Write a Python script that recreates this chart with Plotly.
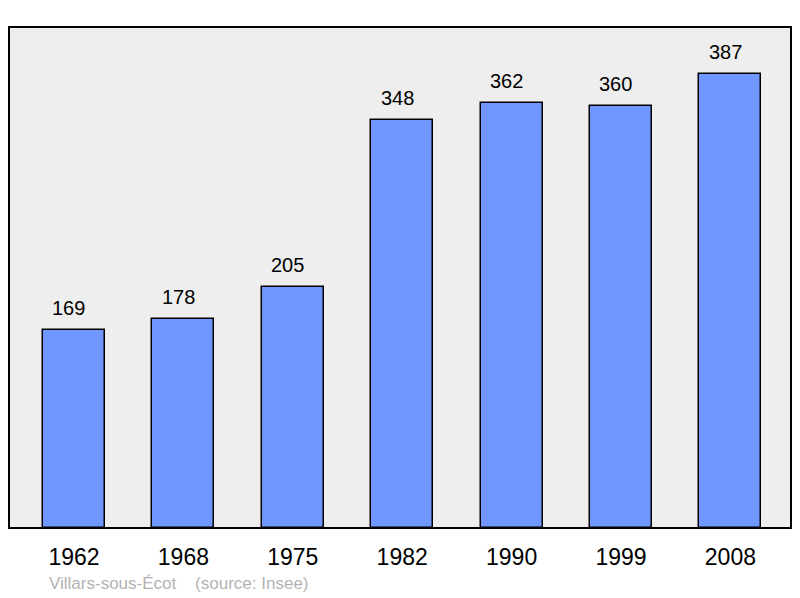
import plotly.graph_objects as go

years = ["1962", "1968", "1975", "1982", "1990", "1999", "2008"]
population = [169, 178, 205, 348, 362, 360, 387]
source_text = "Villars-sous-Écot    (source: Insee)"

# The page body has an 8px default margin, so the figure is drawn 8px in.
W, H = 792, 590
ml, mr, mt, mb = 1, 9, 19, 70
pos = list(range(len(years)))

fig = go.Figure()
fig.add_trace(go.Bar(
    x=pos, y=population, width=0.567,
    marker=dict(color="#7097ff", line=dict(color="black", width=1.5)),
    hoverinfo="skip",
))

for p, v in zip(pos, population):
    fig.add_annotation(x=p, y=v, text=str(v), showarrow=False, yanchor="bottom",
                       yshift=9, xshift=-5,
                       font=dict(family="Liberation Sans, Arial", size=20, color="black"))

fig.add_annotation(xref="paper", yref="paper", x=(39 - ml) / (W - ml - mr), y=-(575 - (H - mb)) / (H - mt - mb),
                   xanchor="left", yanchor="middle", text=source_text, showarrow=False,
                   font=dict(family="Liberation Sans, Arial", size=17, color="#b3b3b3"))

fig.add_shape(type="rect", xref="paper", yref="paper", x0=0, x1=1, y0=0, y1=1,
              line=dict(color="black", width=2), layer="above")

fig.update_layout(
    width=W, height=H,
    margin=dict(l=ml, r=mr, t=mt, b=mb),
    paper_bgcolor="white", plot_bgcolor="#eeeeee",
    showlegend=False, bargap=0,
    font=dict(family="Liberation Sans, Arial", color="black"),
)
fig.update_xaxes(range=[-0.594, 6.554], tickvals=pos, ticktext=years, showgrid=False,
                 zeroline=False, ticks="", tickfont=dict(size=23), showline=False,
                 ticklabelstandoff=13)
fig.update_yaxes(range=[0, 427], showgrid=False, zeroline=False, showticklabels=False, showline=False)

fig.write_html("out.html")
